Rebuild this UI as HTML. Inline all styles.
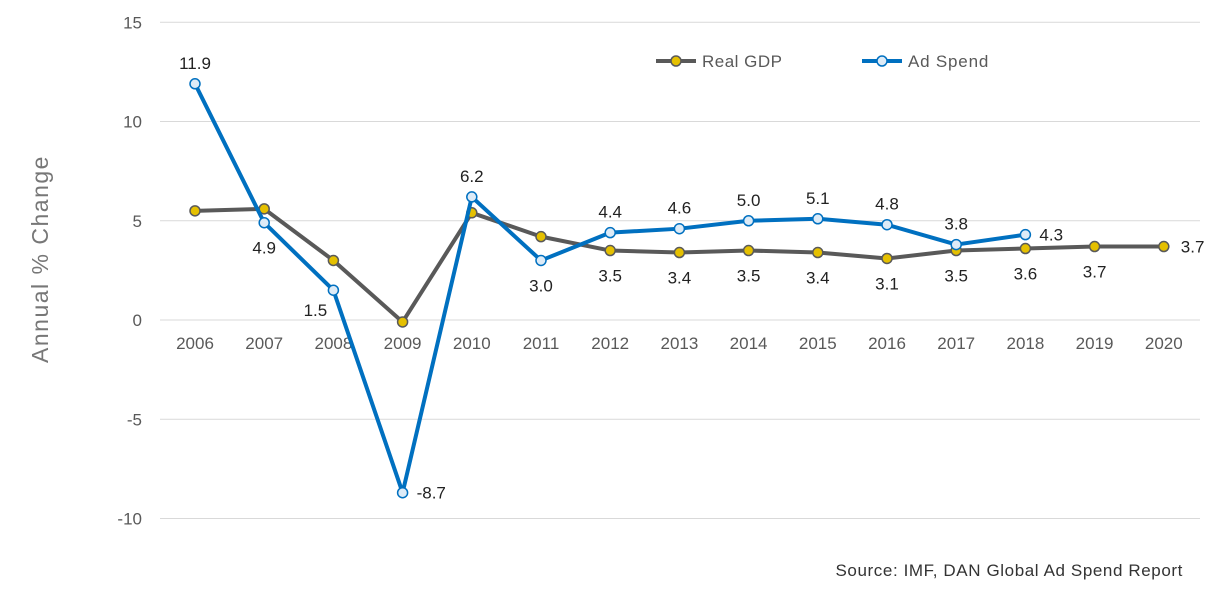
<!DOCTYPE html>
<html><head><meta charset="utf-8">
<style>
body{margin:0;background:#fff;}
svg text{font-family:"Liberation Sans",sans-serif;}
</style></head>
<body>
<svg id="chart" width="1226" height="589" xmlns="http://www.w3.org/2000/svg">
<g id="grid"></g><g id="axes"></g><g id="series"></g><g id="labels"></g>
<text transform="translate(48,259) rotate(-90)" text-anchor="middle" font-size="23" letter-spacing="1.5" fill="#777">Annual % Change</text>
<g>
<g>
<line x1="656" y1="61" x2="696" y2="61" stroke="#595959" stroke-width="4"/>
<circle cx="676" cy="61" r="5" fill="#e5c000" stroke="#595959" stroke-width="1.5"/>
<text x="702" y="67" font-size="17" fill="#595959" letter-spacing="0.5">Real GDP</text></g>
<g>
<line x1="862" y1="61" x2="902" y2="61" stroke="#0070c0" stroke-width="4"/>
<circle cx="882" cy="61" r="5" fill="#ddebf7" stroke="#0070c0" stroke-width="1.5"/>
<text x="908" y="67" font-size="17" fill="#595959" letter-spacing="0.8">Ad Spend</text></g>
</g>
<text x="1183" y="576" text-anchor="end" font-size="17" letter-spacing="0.6" fill="#333">Source: IMF, DAN Global Ad Spend Report</text>
</svg>
<script>
const years=["2006","2007","2008","2009","2010","2011","2012","2013","2014","2015","2016","2017","2018","2019","2020"];
const gdp=[5.5,5.6,3.0,-0.1,5.4,4.2,3.5,3.4,3.5,3.4,3.1,3.5,3.6,3.7,3.7];
const adSpend=[11.9,4.9,1.5,-8.7,6.2,3.0,4.4,4.6,5.0,5.1,4.8,3.8,4.3];
const yTicks=[15,10,5,0,-5,-10];
const gdpLabelShown=[false,false,false,false,false,false,true,true,true,true,true,true,true,true,true];
const adLabelPos=["above","below","belowleft","right","above","below","above","above","above","above","above","above","right"];
const NS="http://www.w3.org/2000/svg";
const X=i=>195+i*69.2;
const Y=v=>320-v*19.85;
function mk(tag,attrs,parent){const e=document.createElementNS(NS,tag);for(const k in attrs)e.setAttribute(k,attrs[k]);parent.appendChild(e);return e;}
const grid=document.getElementById('grid'),axes=document.getElementById('axes'),ser=document.getElementById('series'),lab=document.getElementById('labels');
yTicks.forEach(t=>{
 const l=mk('line',{x1:160,x2:1200,y1:Y(t),y2:Y(t),stroke:'#d9d9d9','stroke-width':1},grid);
 
 
 const tx=mk('text',{x:142,y:Y(t)+6,'text-anchor':'end','font-size':17,fill:'#595959'},axes);
 tx.textContent=t;
 
 
});
years.forEach((y,i)=>{
 const tx=mk('text',{x:X(i),y:349,'text-anchor':'middle','font-size':17,fill:'#595959'},axes);
 tx.textContent=y;
 
 
});
function series(vals,color,fill,name){
 const p=mk('polyline',{points:vals.map((v,i)=>X(i)+','+Y(v)).join(' '),fill:'none',stroke:color,'stroke-width':4,'stroke-linejoin':'round'},ser);
 
 
 vals.forEach((v,i)=>{
  const c=mk('circle',{cx:X(i),cy:Y(v),r:5,fill:fill,stroke:color,'stroke-width':1.5},ser);
  
  
 });
}
series(gdp,'#595959','#e5c000','gdp');
series(adSpend,'#0070c0','#ddebf7','ad-spend');
function label(x,y,txt,anchor,name){
 const t=mk('text',{x:x,y:y,'text-anchor':anchor,'font-size':17,fill:'#222'},lab);
 t.textContent=txt;
 
 
}
gdp.forEach((v,i)=>{
 if(!gdpLabelShown[i])return;
 if(i===gdp.length-1)label(X(i)+17,Y(v)+6,v.toFixed(1),'start','gdp-value-label');
 else label(X(i),Y(v)+31,v.toFixed(1),'middle','gdp-value-label');
});
adSpend.forEach((v,i)=>{
 const p=adLabelPos[i];let x=X(i),y=Y(v)-15,a='middle';
 if(p==='below')y=Y(v)+31;
 if(p==='belowleft'){x=X(i)-18;y=Y(v)+26;}
 if(p==='right'){x=X(i)+14;y=Y(v)+6;a='start';}
 label(x,y,v.toFixed(1),a,'ad-spend-value-label');
});
</script>
</body></html>
